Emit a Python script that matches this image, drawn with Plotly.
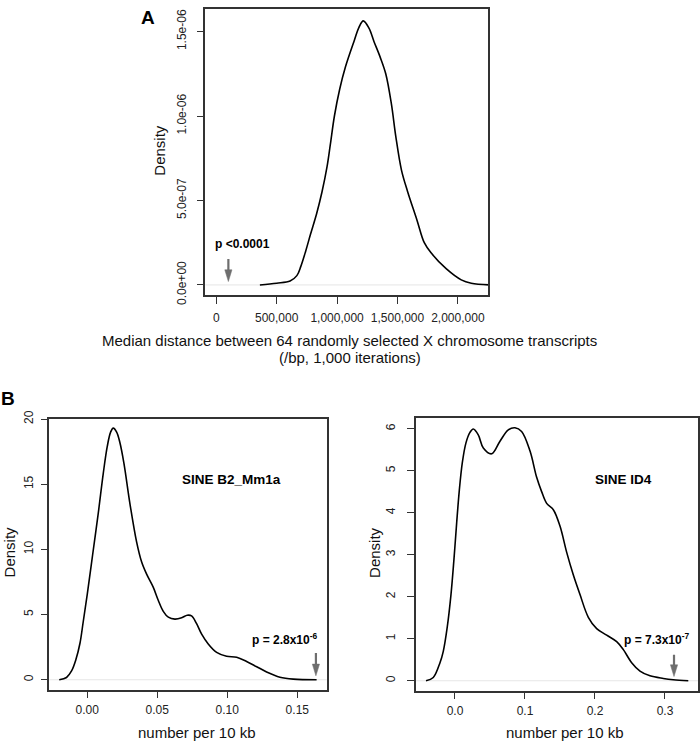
import plotly.graph_objects as go

W, H = 700, 752
FONT = "Liberation Sans, Arial, sans-serif"

# ---------------- data ----------------
# Panel A: density of median distance (bp); density values in units of 1e-6
a_x = [361000, 500000, 611000, 667000, 700000, 740000, 780000, 830000, 875000, 917000,
       944000, 978000, 1022000, 1069000, 1144000, 1181000, 1217000, 1264000, 1306000,
       1356000, 1403000, 1450000, 1486000, 1533000, 1583000, 1661000, 1722000, 1778000,
       1903000, 2028000, 2111000, 2264000]
a_y = [0.0, 0.01, 0.023, 0.055, 0.11, 0.2, 0.3, 0.42, 0.55, 0.7,
       0.83, 1.0, 1.16, 1.29, 1.45, 1.525, 1.563, 1.52, 1.44,
       1.35, 1.25, 1.07, 0.88, 0.68, 0.555, 0.385, 0.25, 0.19,
       0.096, 0.03, 0.01, 0.0]

# Panel B left: SINE B2_Mm1a
b1_x = [-0.02, -0.0148, -0.0112, -0.0081, -0.0052, -0.0029, 0.0, 0.0038, 0.0079, 0.0114,
        0.0143, 0.0167, 0.0186, 0.021, 0.0233, 0.0262, 0.0305, 0.0352, 0.0388, 0.0424,
        0.0471, 0.0507, 0.0543, 0.0579, 0.0626, 0.0674, 0.0714, 0.0745, 0.0781, 0.0817,
        0.0864, 0.0924, 0.0995, 0.1067, 0.1138, 0.121, 0.1281, 0.1376, 0.1471, 0.1638]
b1_y = [0.0, 0.175, 0.675, 1.55, 2.8, 4.43, 6.55, 9.55, 12.8, 15.8,
        17.9, 19.0, 19.3, 19.0, 18.2, 16.6, 13.5, 10.6, 9.05, 8.1,
        7.1, 6.1, 5.25, 4.8, 4.65, 4.75, 4.95, 4.9, 4.3, 3.5,
        2.75, 2.1, 1.8, 1.72, 1.4, 1.0, 0.6, 0.2, 0.05, 0.0]

# Panel B right: SINE ID4
b2_x = [-0.0414, -0.031, -0.0214, -0.0167, -0.0110, -0.0057, -0.0014, 0.0024, 0.0062, 0.0105,
        0.0157, 0.0214, 0.0262, 0.0333, 0.0405, 0.0524, 0.0643, 0.0762, 0.0857, 0.0952,
        0.1071, 0.1167, 0.1238, 0.131, 0.1405, 0.15, 0.1595, 0.169, 0.1786, 0.1905,
        0.2024, 0.2167, 0.231, 0.2405, 0.2524, 0.2643, 0.2786, 0.2976, 0.3119, 0.3333]
b2_y = [0.0, 0.078, 0.43, 0.7, 1.28, 2.05, 2.9, 3.75, 4.53, 5.19,
        5.66, 5.91, 5.99, 5.85, 5.54, 5.40, 5.70, 5.97, 6.02, 5.93,
        5.47, 4.84, 4.50, 4.22, 4.07, 3.68, 3.06, 2.52, 2.05, 1.51,
        1.24, 1.085, 0.93, 0.74, 0.43, 0.23, 0.116, 0.054, 0.023, 0.0]

a_xticks = [0, 500000, 1000000, 1500000, 2000000]
a_xticktext = ["0", "500,000", "1,000,000", "1,500,000", "2,000,000"]
a_yticks = [0.0, 0.5, 1.0, 1.5]
a_yticktext = ["0.0e+00", "5.0e-07", "1.0e-06", "1.5e-06"]
b1_xticks = [0.0, 0.05, 0.10, 0.15]
b1_xticktext = ["0.00", "0.05", "0.10", "0.15"]
b1_yticks = [0, 5, 10, 15, 20]
b2_xticks = [0.0, 0.1, 0.2, 0.3]
b2_xticktext = ["0.0", "0.1", "0.2", "0.3"]
b2_yticks = [0, 1, 2, 3, 4, 5, 6]

# observed values (arrows): x position, arrow tip y, arrow tail y
a_obs = [100000, 0.02, 0.153]
b1_obs = [0.1633, 0.3, 2.05]
b2_obs = [0.3129, 0.1, 0.62]

# ---------------- layout geometry (pixels) ----------------
A_BOX = dict(l=205.3, r=488.3, t=1, b=294, xr=[-91000, 2252000], yr=[-0.0617, 1.6336])
B1_BOX = dict(l=49.3, r=326.7, t=420, b=697.3, xr=[-0.0271, 0.171], yr=[-0.75, 20.04])
B2_BOX = dict(l=415.7, r=698.3, t=419.3, b=698.3, xr=[-0.0561, 0.3476], yr=[-0.2326, 6.256])


def px(v):
    return v / W


def py(v):
    return 1 - v / H


fig = go.Figure()
line = dict(color="black", width=1.6)
for xs, ys, xa, ya in [(a_x, a_y, "x", "y"), (b1_x, b1_y, "x2", "y2"), (b2_x, b2_y, "x3", "y3")]:
    fig.add_trace(go.Scatter(x=xs, y=ys, mode="lines",
                             line=dict(shape="spline", smoothing=1.0, **line),
                             xaxis=xa, yaxis=ya, showlegend=False, hoverinfo="skip"))

# arrows marking observed values (shaft + filled head)
arrow_col = "#6e6e6e"
for obs, box, xa, ya in [(a_obs, A_BOX, "x", "y"), (b1_obs, B1_BOX, "x2", "y2"),
                         (b2_obs, B2_BOX, "x3", "y3")]:
    sx = (box["xr"][1] - box["xr"][0]) / (box["r"] - box["l"])
    sy = (box["yr"][1] - box["yr"][0]) / (box["b"] - box["t"])
    x0, tip, tail = obs
    head_len, head_half = 12 * sy, 3.6 * sx
    fig.add_trace(go.Scatter(x=[x0, x0], y=[tail, tip + head_len * 0.8], mode="lines",
                             line=dict(color=arrow_col, width=2.2),
                             xaxis=xa, yaxis=ya, showlegend=False, hoverinfo="skip"))
    fig.add_trace(go.Scatter(x=[x0 - head_half, x0 + head_half, x0, x0 - head_half],
                             y=[tip + head_len, tip + head_len, tip, tip + head_len],
                             mode="lines", fill="toself", fillcolor=arrow_col,
                             line=dict(color=arrow_col, width=0.5),
                             xaxis=xa, yaxis=ya, showlegend=False, hoverinfo="skip"))

axis_common = dict(showline=True, mirror=True, linecolor="#333333", linewidth=1.5,
                   ticks="outside", ticklen=7, tickwidth=1.3, tickcolor="#333333",
                   showgrid=False, zeroline=False, tickmode="array",
                   tickfont=dict(family=FONT, size=12, color="#222222"))


def dom_x(b):
    return [px(b["l"]), px(b["r"])]


def dom_y(b):
    return [py(b["b"]), py(b["t"])]


fig.update_layout(
    width=W, height=H, margin=dict(l=0, r=0, t=0, b=0),
    paper_bgcolor="white", plot_bgcolor="white",
    xaxis=dict(domain=dom_x(A_BOX), range=A_BOX["xr"], anchor="y",
               tickvals=a_xticks, ticktext=a_xticktext, ticklabelstandoff=3, **axis_common),
    yaxis=dict(domain=dom_y(A_BOX), range=A_BOX["yr"], anchor="x",
               tickvals=a_yticks, ticktext=a_yticktext, tickangle=-90,
               ticklabelstandoff=6, **axis_common),
    xaxis2=dict(domain=dom_x(B1_BOX), range=B1_BOX["xr"], anchor="y2",
                tickvals=b1_xticks, ticktext=b1_xticktext, ticklabelstandoff=1, **axis_common),
    yaxis2=dict(domain=dom_y(B1_BOX), range=B1_BOX["yr"], anchor="x2",
                tickvals=b1_yticks, tickangle=-90, ticklabelstandoff=3, **axis_common),
    xaxis3=dict(domain=dom_x(B2_BOX), range=B2_BOX["xr"], anchor="y3",
                tickvals=b2_xticks, ticktext=b2_xticktext, ticklabelstandoff=1, **axis_common),
    yaxis3=dict(domain=dom_y(B2_BOX), range=B2_BOX["yr"], anchor="x3",
                tickvals=b2_yticks, tickangle=-90, ticklabelstandoff=7, **axis_common),
)

# faint zero lines
for xr, yr in [("x domain", "y"), ("x2 domain", "y2"), ("x3 domain", "y3")]:
    fig.add_shape(type="line", xref=xr, yref=yr, x0=0, x1=1, y0=0, y1=0,
                  line=dict(color="#e6e6e6", width=1), layer="below")

ann = []
bold = dict(family=FONT, size=12, color="black")
ann.append(dict(xref="x", yref="y", x=221000, y=0.245, text="<b>p <0.0001</b>",
                showarrow=False, font=bold))
ann.append(dict(xref="x2", yref="y2", x=0.1409, y=3.15, text="<b>p = 2.8x10<sup>-6</sup></b>",
                showarrow=False, font=bold))
ann.append(dict(xref="x3", yref="y3", x=0.2886, y=1.0, text="<b>p = 7.3x10<sup>-7</sup></b>",
                showarrow=False, font=bold))
big = dict(family=FONT, size=13.5, color="black")
ann.append(dict(xref="x2", yref="y2", x=0.1031, y=15.34, text="<b>SINE B2_Mm1a</b>",
                showarrow=False, font=big))
ann.append(dict(xref="x3", yref="y3", x=0.2405, y=4.78, text="<b>SINE ID4</b>",
                showarrow=False, font=big))

title_font = dict(family=FONT, size=15, color="#111111")


def pann(x, y, text, font, angle=0):
    ann.append(dict(xref="paper", yref="paper", x=px(x), y=py(y), text=text, showarrow=False,
                    font=font, textangle=angle, xanchor="center", yanchor="middle"))


pann(349.5, 340.5, "Median distance between 64 randomly selected X chromosome transcripts", title_font)
pann(349.5, 357.5, "(/bp, 1,000 iterations)", title_font)
pann(160, 146, "Density", title_font, -90)
pann(9, 557, "Density", title_font, -90)
pann(374.5, 557, "Density", title_font, -90)
pann(196.7, 741.5, "number per 10 kb", title_font)
pann(564.7, 741.5, "number per 10 kb", title_font)
panel_font = dict(family=FONT, size=19, color="black")
pann(148, 10, "<b>A</b>", panel_font)
pann(8, 399.5, "<b>B</b>", panel_font)

fig.update_layout(annotations=ann)
fig.write_html("out.html", config={"displayModeBar": False},
               post_script="document.body.style.margin='0';document.body.style.overflow='hidden';")
